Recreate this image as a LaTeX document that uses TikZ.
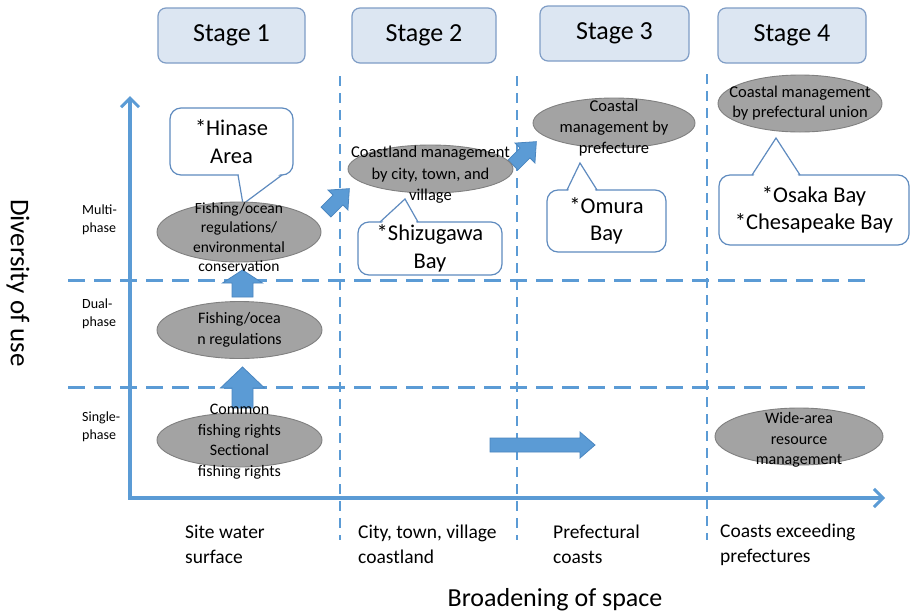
\documentclass[tikz,border=0pt]{standalone}
\usepackage{fontspec}
\setmainfont{Carlito}
\usetikzlibrary{arrows.meta,shapes.geometric}
\definecolor{lineblue}{HTML}{5B9BD5}
\definecolor{arrowedge}{HTML}{4A86C0}
\definecolor{stagefill}{HTML}{DCE6F2}
\definecolor{stageedge}{HTML}{7F9DC6}
\definecolor{calloutedge}{HTML}{5F8BBF}
\definecolor{ellfill}{HTML}{A3A3A3}
\definecolor{elledge}{HTML}{808080}
\newcommand\blkarrow[7]{% x y angle length headlength shaftwidth headwidth
  \begin{scope}[shift={(#1,#2)},rotate=#3]
    \filldraw[fill=lineblue,draw=arrowedge,line width=0.8pt,line join=miter]
      (0,{-#6/2}) -- ({#4-#5},{-#6/2}) -- ({#4-#5},{-#7/2}) -- (#4,0)
      -- ({#4-#5},{#7/2}) -- ({#4-#5},{#6/2}) -- (0,{#6/2}) -- cycle;
  \end{scope}}
\begin{document}
\begin{tikzpicture}[x=1pt,y=-1pt,
  stagebox/.style={draw=stageedge,fill=stagefill,line width=1.2pt,rounded corners=8pt,
    font=\fontsize{26}{30}\selectfont,inner sep=0pt},
  ell/.style={ellipse,draw=elledge,fill=ellfill,line width=0.9pt,inner sep=0pt},
  etxt/.style={align=center,inner sep=0pt,text=black,font=\fontsize{16}{20.5}\selectfont},
  callout/.style={draw=calloutedge,fill=white,line width=1.2pt,rounded corners=11pt,
    align=center,inner sep=0pt,font=\fontsize{22.5}{27.5}\selectfont},
  tail/.style={draw=calloutedge,line width=1.2pt,line join=miter},
  hdash/.style={lineblue,line width=3pt,dash pattern=on 17pt off 9pt},
  vdash/.style={lineblue,line width=2.6pt,dash pattern=on 10pt off 7pt},
  axis/.style={lineblue,line width=3.5pt,-{Straight Barb[length=9pt,width=18pt,line width=3pt]}},
  sidelab/.style={align=left,anchor=west,inner sep=0pt,font=\fontsize{14}{18}\selectfont},
  botlab/.style={align=left,anchor=west,inner sep=0pt,font=\fontsize{19.5}{25}\selectfont}]
\useasboundingbox (0,0) rectangle (912,614);
\fill[white] (0,0) rectangle (912,614);

% stage boxes
\node[stagebox,minimum width=147pt,minimum height=55pt] (s1) at (231.5,35.5) {Stage 1};
\node[stagebox,minimum width=144pt,minimum height=55pt] (s2) at (424,35.5) {Stage 2};
\node[stagebox,minimum width=149pt,minimum height=55pt] (s3) at (614.5,33.5) {Stage 3};
\node[stagebox,minimum width=148pt,minimum height=55pt] (s4) at (792,35.5) {Stage 4};

% grid dashed lines
\coordinate (h1a) at (68,280); \coordinate (h1b) at (865,280);
\coordinate (h2a) at (68,387); \coordinate (h2b) at (872,387);
\draw[hdash] (h1a) -- (h1b);
\draw[hdash] (h2a) -- (h2b);
\coordinate (v1a) at (340,76); \coordinate (v1b) at (340,540);
\coordinate (v2a) at (517,76); \coordinate (v2b) at (517,540);
\coordinate (v3a) at (707,74); \coordinate (v3b) at (707,540);
\draw[vdash] (v1a) -- (v1b);
\draw[vdash] (v2a) -- (v2b);
\draw[vdash] (v3a) -- (v3b);

% axes
\coordinate (o) at (130,498);
\coordinate (ytop) at (130,96);
\coordinate (xend) at (885,498);
\draw[axis] (o) -- (ytop);
\draw[axis] ([xshift=-1.75pt]o) -- (xend);

% axis labels
\node[sidelab] (l1) at (82,220) {Multi-\\phase};
\node[sidelab] (l2) at (82,314) {Dual-\\phase};
\node[sidelab] (l3) at (82,427) {Single-\\phase};
\node[rotate=-90,inner sep=0pt,font=\fontsize{27}{30}\selectfont] (ylab) at (18,283) {Diversity of use};
\node[botlab] (b1) at (185,544.5) {Site water\\surface};
\node[botlab] (b2) at (358,544.5) {City, town, village\\coastland};
\node[botlab] (b3) at (553,544.5) {Prefectural\\coasts};
\node[botlab] (b4) at (720,544.5) {Coasts exceeding\\prefectures};
\node[inner sep=0pt,font=\fontsize{26}{30}\selectfont] (xlab) at (555,600) {Broadening of space};

% callouts
\node[callout,minimum width=123pt,minimum height=67pt] (c1) at (231.5,141.5) {*Hinase\\Area};
\coordinate (t1) at (243,204);
\fill[white] (238.6,173) -- (t1) -- (281.4,173) -- cycle;
\draw[tail] (238,175) -- (t1) -- (282,175);

\node[callout,minimum width=144pt,minimum height=53pt] (c2) at (430,248.5) {*Shizugawa\\Bay};
\coordinate (t2) at (405,199);
\fill[white] (380.8,224) -- (t2) -- (417.2,224) -- cycle;
\draw[tail] (380,222) -- (t2) -- (418,222);

\node[callout,minimum width=119pt,minimum height=62pt] (c3) at (606.5,221) {*Omura\\Bay};
\coordinate (t3) at (580,163);
\fill[white] (567.8,192) -- (t3) -- (596.2,192) -- cycle;
\draw[tail] (567,190) -- (t3) -- (597,190);

\node[callout,minimum width=190pt,minimum height=70pt] (c4) at (814,210) {*Osaka Bay\\*Chesapeake Bay};
\coordinate (t4) at (776,138);
\fill[white] (752.8,177) -- (t4) -- (799.2,177) -- cycle;
\draw[tail] (752,175) -- (t4) -- (800,175);

% block arrows
\blkarrow{242.5}{297}{90}{27}{13}{21}{40}
\blkarrow{242.5}{408}{90}{41}{21}{21}{44}
\blkarrow{490}{445}{0}{105}{15}{14}{26}
\blkarrow{326}{212}{45}{33}{16}{14}{28}
\blkarrow{513}{165}{45}{33}{16}{14}{28}

% ellipses
\node[ell,minimum width=164pt,minimum height=60pt] (e1) at (239,232) {};
\node[etxt,font=\fontsize{15.5}{19.5}\selectfont] (e1t) at (239,237) {Fishing/ocean\\regulations/\\environmental\\conservation};
\node[ell,minimum width=165pt,minimum height=57pt] (e2) at (239.5,330) {};
\node[etxt] (e2t) at (239.5,330) {Fishing/ocea\\n regulations};
\node[ell,minimum width=165pt,minimum height=54pt] (e3) at (239.5,440) {};
\node[etxt] (e3t) at (239.5,441.5) {Common\\fishing rights\\Sectional\\fishing rights};
\node[ell,minimum width=165pt,minimum height=48pt] (e4) at (430.5,169) {};
\node[etxt,font=\fontsize{16.5}{21.5}\selectfont] (e4t) at (430.5,175) {Coastland management\\by city, town, and\\village};
\node[ell,minimum width=162pt,minimum height=50pt] (e5) at (614,123) {};
\node[etxt,font=\fontsize{16.5}{21}\selectfont] (e5t) at (614,128) {Coastal\\management by\\prefecture};
\node[ell,minimum width=164pt,minimum height=57pt] (e6) at (800,103.5) {};
\node[etxt,font=\fontsize{16.5}{20.5}\selectfont] (e6t) at (800,103) {Coastal management\\by prefectural union};
\node[ell,minimum width=168pt,minimum height=57pt] (e7) at (799,436.5) {};
\node[etxt] (e7t) at (799,440) {Wide-area\\resource\\management};
\end{tikzpicture}
\end{document}
